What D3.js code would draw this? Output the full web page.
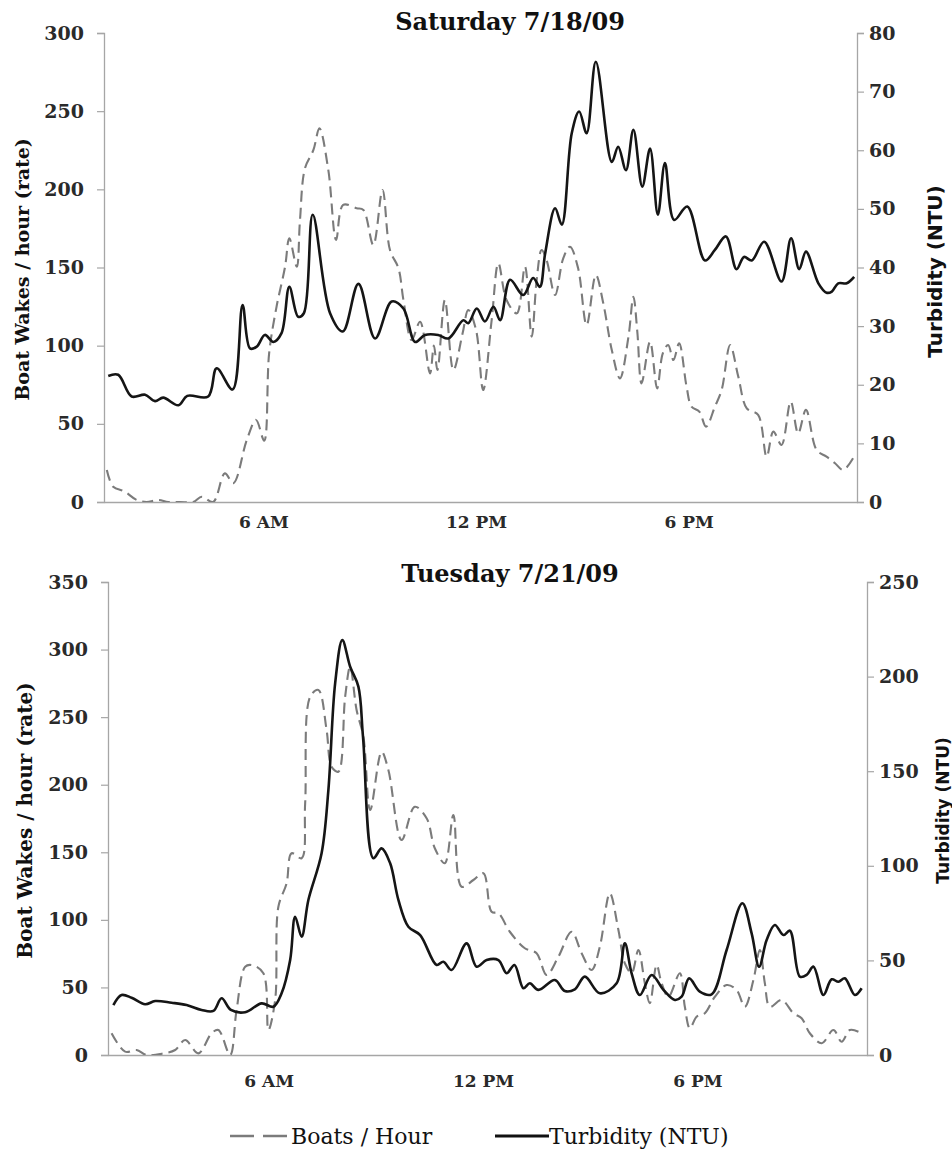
<!DOCTYPE html>
<html><head><meta charset="utf-8">
<script src="https://cdn.jsdelivr.net/npm/d3@7/dist/d3.min.js"></script>
<style>body{margin:0;background:#fff}</style>
</head><body>
<svg id="c" width="952" height="1149"></svg>
<script>
// ---------- DATA (time in hours of day, value) ----------
const hourTicks = [6, 12, 18];
const hourTickLabels = ["6 AM", "12 PM", "6 PM"];
const panelTitles = ["Saturday 7/18/09", "Tuesday 7/21/09"];
const seriesNames = ["Boats / Hour", "Turbidity (NTU)"];
const leftAxisLabel = "Boat Wakes / hour (rate)";
const rightAxisLabel = "Turbidity (NTU)";
const satLeftTicks = [0, 50, 100, 150, 200, 250, 300];
const satRightTicks = [0, 10, 20, 30, 40, 50, 60, 70, 80];
const tueLeftTicks = [0, 50, 100, 150, 200, 250, 300, 350];
const tueRightTicks = [0, 50, 100, 150, 200, 250];

const satBoats = [[1.58,20.5],[1.76,9.8],[2.09,6.6],[2.42,1.3],[2.70,0],[3.03,1.3],[3.31,0],[3.64,0],[4.02,0],[4.26,3.4],[4.58,0],[4.91,18.3],[5.15,12],[5.53,39.7],[5.79,52.5],[6.02,39.2],[6.16,95.1],[6.37,125],[6.61,150.5],[6.73,168.7],[6.94,150.5],[7.03,180],[7.17,213.4],[7.41,225.2],[7.58,239],[7.83,212.4],[8.05,167.6],[8.25,190],[8.63,187.9],[8.82,186.8],[9.10,164.4],[9.36,199.6],[9.57,161.2],[9.81,149.5],[9.95,129.2],[10.18,103.6],[10.42,115.3],[10.70,82.3],[10.81,100],[10.91,84.4],[11.12,129.2],[11.36,84.4],[11.62,107.9],[11.78,122.8],[12.00,110],[12.20,71.6],[12.44,116.4],[12.63,152.7],[12.86,129.2],[13.15,120.7],[13.38,150.5],[13.57,105.7],[13.71,142],[13.85,161.2],[13.99,154.8],[14.23,132.4],[14.46,155.9],[14.65,163.3],[14.88,149.5],[15.12,113.2],[15.38,145.2],[15.59,127.1],[15.83,97.2],[16.06,79.1],[16.30,105.7],[16.44,131.3],[16.55,109],[16.67,75.9],[16.91,102.5],[17.11,72.7],[17.27,95.1],[17.42,100.4],[17.57,90.8],[17.73,101.5],[17.94,73.8],[18.08,61],[18.30,57.8],[18.49,48.2],[18.74,61],[18.93,71.6],[19.17,100.4],[19.40,80.2],[19.64,59.9],[19.96,55.7],[20.20,29],[20.39,45],[20.62,36.5],[20.88,64.2],[21.09,43.9],[21.31,58.9],[21.61,33.3],[21.89,29],[22.13,24.8],[22.36,20.5],[22.64,28]];

const satTurbidity = [[1.62,21.5],[1.90,21.7],[2.28,18.0],[2.66,18.3],[2.94,17.2],[3.17,17.8],[3.60,16.5],[3.85,18.1],[4.44,18.0],[4.68,22.8],[5.13,19.2],[5.41,33.6],[5.62,26.2],[5.81,26.5],[6.04,28.5],[6.28,27.3],[6.51,28.8],[6.73,36.7],[6.98,31.6],[7.14,32.2],[7.39,49.0],[7.88,32.2],[8.24,29.1],[8.68,37.2],[9.15,27.9],[9.62,34.2],[9.95,33.0],[10.28,27.3],[10.56,28.5],[10.93,28.5],[11.22,27.9],[11.64,31.0],[11.78,30.5],[12.02,33.0],[12.25,30.8],[12.49,33.3],[12.68,31.0],[12.96,37.9],[13.33,35.3],[13.61,38.2],[13.80,36.7],[13.95,42.4],[14.23,50.1],[14.42,47.3],[14.70,62.9],[14.91,66.6],[15.12,62.9],[15.38,75.1],[15.83,58.0],[16.01,60.6],[16.23,56.6],[16.44,63.5],[16.69,53.8],[16.91,60.3],[17.13,49.0],[17.33,57.8],[17.59,48.1],[17.96,50.4],[18.46,41.2],[18.74,43.0],[19.05,45.3],[19.35,39.7],[19.56,41.8],[19.78,41.2],[20.13,44.4],[20.62,37.6],[20.89,45.0],[21.12,39.7],[21.31,42.7],[21.66,37.3],[21.89,35.7],[22.04,35.9],[22.22,37.3],[22.46,37.3],[22.67,38.4]];

const tueBoats = [[1.60,16.1],[1.98,2.5],[2.30,3.7],[2.58,0],[3.05,1.2],[3.38,3.7],[3.66,11.1],[4.03,1.2],[4.40,16.1],[4.59,18.5],[4.92,0],[5.10,33.3],[5.34,65.3],[5.52,66.6],[5.85,60.5],[5.99,18.5],[6.18,40.7],[6.27,109.7],[6.50,127],[6.64,149.3],[6.92,145.6],[7.02,186.3],[7.16,265.1],[7.39,270.1],[7.62,240.5],[7.76,213.3],[7.95,209.6],[8.14,265.1],[8.28,287.3],[8.46,255.3],[8.65,235.5],[8.84,181.3],[9.16,224.4],[9.35,210.9],[9.72,159.1],[10.09,183.7],[10.42,175.2],[10.65,153],[10.93,141.9],[11.17,177.6],[11.40,124.5],[11.73,129.5],[12.01,134.5],[12.24,106],[12.43,104.9],[12.75,91.2],[13.17,79],[13.50,75.3],[13.78,59.2],[14.11,72.7],[14.48,91.2],[14.76,75.3],[15.04,62.9],[15.27,80.1],[15.55,119.7],[15.79,92.5],[15.97,67.9],[16.16,60.5],[16.35,77.7],[16.53,53.1],[16.67,38.3],[16.86,66.6],[17.00,53.1],[17.19,43.1],[17.51,60.5],[17.65,35.7],[17.79,19.8],[17.98,28.3],[18.21,30.9],[18.49,43.1],[18.82,51.8],[19.10,48.1],[19.33,35.7],[19.57,55.5],[19.75,77.7],[19.89,53.1],[20.03,35.7],[20.36,40.7],[20.69,30.9],[20.92,27.2],[21.15,16.1],[21.48,8.7],[21.81,18.5],[22.04,9.8],[22.27,18.5],[22.51,17.2]];

const tueTurbidity = [[1.65,26.4],[1.88,31.7],[2.16,30.3],[2.54,26.8],[2.82,28.5],[3.28,27.6],[3.70,26.4],[4.12,23.8],[4.45,23.3],[4.68,30.0],[4.94,23.8],[5.34,22.6],[5.80,27.3],[6.13,25.5],[6.36,32.6],[6.60,50.2],[6.74,73.1],[6.92,62.5],[7.11,81.9],[7.48,106.6],[7.67,140],[7.86,196.5],[8.06,219.3],[8.28,205.2],[8.51,194.7],[8.64,168],[8.93,104],[9.16,109.2],[9.40,101.3],[9.63,82],[9.91,67.8],[10.24,63.4],[10.70,47.6],[10.89,49.3],[11.12,44.9],[11.54,59],[11.82,46.7],[12.10,50.2],[12.43,50.2],[12.66,43.2],[12.88,47.6],[13.13,35.3],[13.31,37.9],[13.55,34.4],[14.01,39.6],[14.29,33.8],[14.57,34.7],[14.85,41.4],[15.27,32.6],[15.74,37.9],[15.97,59],[16.16,43.2],[16.39,31.7],[16.72,42.3],[17.05,34.4],[17.37,29.1],[17.56,30.8],[17.77,40.5],[18.07,33.5],[18.40,32.1],[18.82,55.5],[19.26,80.2],[19.52,64.3],[19.73,46.7],[19.94,60.8],[20.17,68.7],[20.41,63.4],[20.59,65.7],[20.87,41.4],[21.06,42.3],[21.25,46.7],[21.53,31.7],[21.76,40],[21.95,38.7],[22.13,40.5],[22.41,31.7],[22.60,35.3]];

// ---------- DRAWING ----------
const svg = d3.select("#c");
const SERIF = "'DejaVu Serif', 'Liberation Serif', serif";
const SANS = "'DejaVu Sans', 'Liberation Sans', sans-serif";
const AXIS_COLOR = "#a6a6a6";
const TEXT_COLOR = "#2a2a2a";

svg.append("rect").attr("width", 952).attr("height", 1149).attr("fill", "#fff");

const panels = [
  {title: panelTitles[0], titleY: 30, left: 104, right: 857, top: 33, bottom: 502,
   leftTicks: satLeftTicks, rightTicks: satRightTicks, boats: satBoats, turb: satTurbidity,
   xLabelY: 528, leftLabelX: 22, rightLabelX: 935, rightLabelSize: 20, leftLabelSize: 19, rightLabelDy: 4},
  {title: panelTitles[1], titleY: 582, left: 108, right: 867, top: 582, bottom: 1055,
   leftTicks: tueLeftTicks, rightTicks: tueRightTicks, boats: tueBoats, turb: tueTurbidity,
   xLabelY: 1087, leftLabelX: 25, rightLabelX: 943, rightLabelSize: 17, leftLabelSize: 20, rightLabelDy: -8}
];

panels.forEach((p, i) => {
  const g = svg.append("g");
  const x = d3.scaleLinear().domain([1.5, 22.75]).range([p.left, p.right]);
  const yL = d3.scaleLinear().domain([0, d3.max(p.leftTicks)]).range([p.bottom, p.top]);
  const yR = d3.scaleLinear().domain([0, d3.max(p.rightTicks)]).range([p.bottom, p.top]);

  // title
  g.append("text").attr("x", 510).attr("y", p.titleY).attr("text-anchor", "middle")
    .attr("font-family", SERIF).attr("font-weight", "bold").attr("font-size", 24)
    .attr("fill", "#111").text(p.title);

  // left axis
  const la = g.append("g").attr("transform", `translate(${p.left},0)`)
    .call(d3.axisLeft(yL).tickValues(p.leftTicks).tickSize(7).tickPadding(13));
  // right axis
  const ra = g.append("g").attr("transform", `translate(${p.right},0)`)
    .call(d3.axisRight(yR).tickValues(p.rightTicks).tickSize(7).tickPadding(5));
  [la, ra].forEach(a => {
    a.select(".domain").attr("stroke", AXIS_COLOR).attr("stroke-width", 1.3);
    a.selectAll(".tick line").attr("stroke", AXIS_COLOR).attr("stroke-width", 1.2);
    a.selectAll(".tick text").attr("font-family", SERIF).attr("font-weight", "bold")
      .attr("font-size", 19).attr("fill", TEXT_COLOR);
  });

  // x axis
  const xa = g.append("g").attr("transform", `translate(0,${p.bottom})`)
    .call(d3.axisBottom(x).tickValues(hourTicks).tickFormat((d, k) => hourTickLabels[k]).tickSize(0).tickPadding(10));
  xa.select(".domain").attr("stroke", AXIS_COLOR).attr("stroke-width", 1.3);
  xa.selectAll(".tick text").attr("font-family", SERIF).attr("font-weight", "bold")
    .attr("font-size", 17).attr("fill", TEXT_COLOR).attr("dy", null).attr("y", p.xLabelY - p.bottom);

  // axis titles
  g.append("text").attr("transform", `translate(${p.leftLabelX},${(p.top + p.bottom) / 2 + 2}) rotate(-90)`)
    .attr("text-anchor", "middle").attr("dy", "0.35em")
    .attr("font-family", SERIF).attr("font-weight", "bold").attr("font-size", p.leftLabelSize)
    .attr("fill", "#111").text(leftAxisLabel);
  g.append("text").attr("transform", `translate(${p.rightLabelX},${(p.top + p.bottom) / 2 + p.rightLabelDy}) rotate(-90)`)
    .attr("text-anchor", "middle").attr("dy", "0.35em")
    .attr("font-family", SANS).attr("font-weight", "bold").attr("font-size", p.rightLabelSize)
    .attr("fill", "#111").text(rightAxisLabel);

  // clip
  const cid = "clip" + i;
  svg.append("clipPath").attr("id", cid).append("rect")
    .attr("x", p.left).attr("y", p.top - 5).attr("width", p.right - p.left).attr("height", p.bottom - p.top + 5);

  const curve = d3.curveCatmullRom.alpha(0.5);
  const boatLine = d3.line().x(d => x(d[0])).y(d => yL(d[1])).curve(curve);
  const turbLine = d3.line().x(d => x(d[0])).y(d => yR(d[1])).curve(curve);

  const plot = g.append("g").attr("clip-path", `url(#${cid})`);
  plot.append("path").datum(p.boats).attr("d", boatLine).attr("fill", "none")
    .attr("stroke", "#7b7b7b").attr("stroke-width", 2.1).attr("stroke-dasharray", "11,6");
  plot.append("path").datum(p.turb).attr("d", turbLine).attr("fill", "none")
    .attr("stroke", "#151515").attr("stroke-width", 2.6).attr("stroke-linejoin", "round");
});

// legend
const lg = svg.append("g");
const ly = 1136;
lg.append("line").attr("x1", 230).attr("x2", 290).attr("y1", ly).attr("y2", ly)
  .attr("stroke", "#7b7b7b").attr("stroke-width", 2.6).attr("stroke-dasharray", "24,9");
lg.append("text").attr("x", 291).attr("y", ly).attr("dy", "0.35em")
  .attr("font-family", SERIF).attr("font-size", 22).attr("fill", "#111").text(seriesNames[0]);
lg.append("line").attr("x1", 495).attr("x2", 549).attr("y1", ly).attr("y2", ly)
  .attr("stroke", "#111").attr("stroke-width", 3);
lg.append("text").attr("x", 549).attr("y", ly).attr("dy", "0.35em")
  .attr("font-family", SERIF).attr("font-size", 22).attr("fill", "#111").text(seriesNames[1]);
</script>
</body></html>
